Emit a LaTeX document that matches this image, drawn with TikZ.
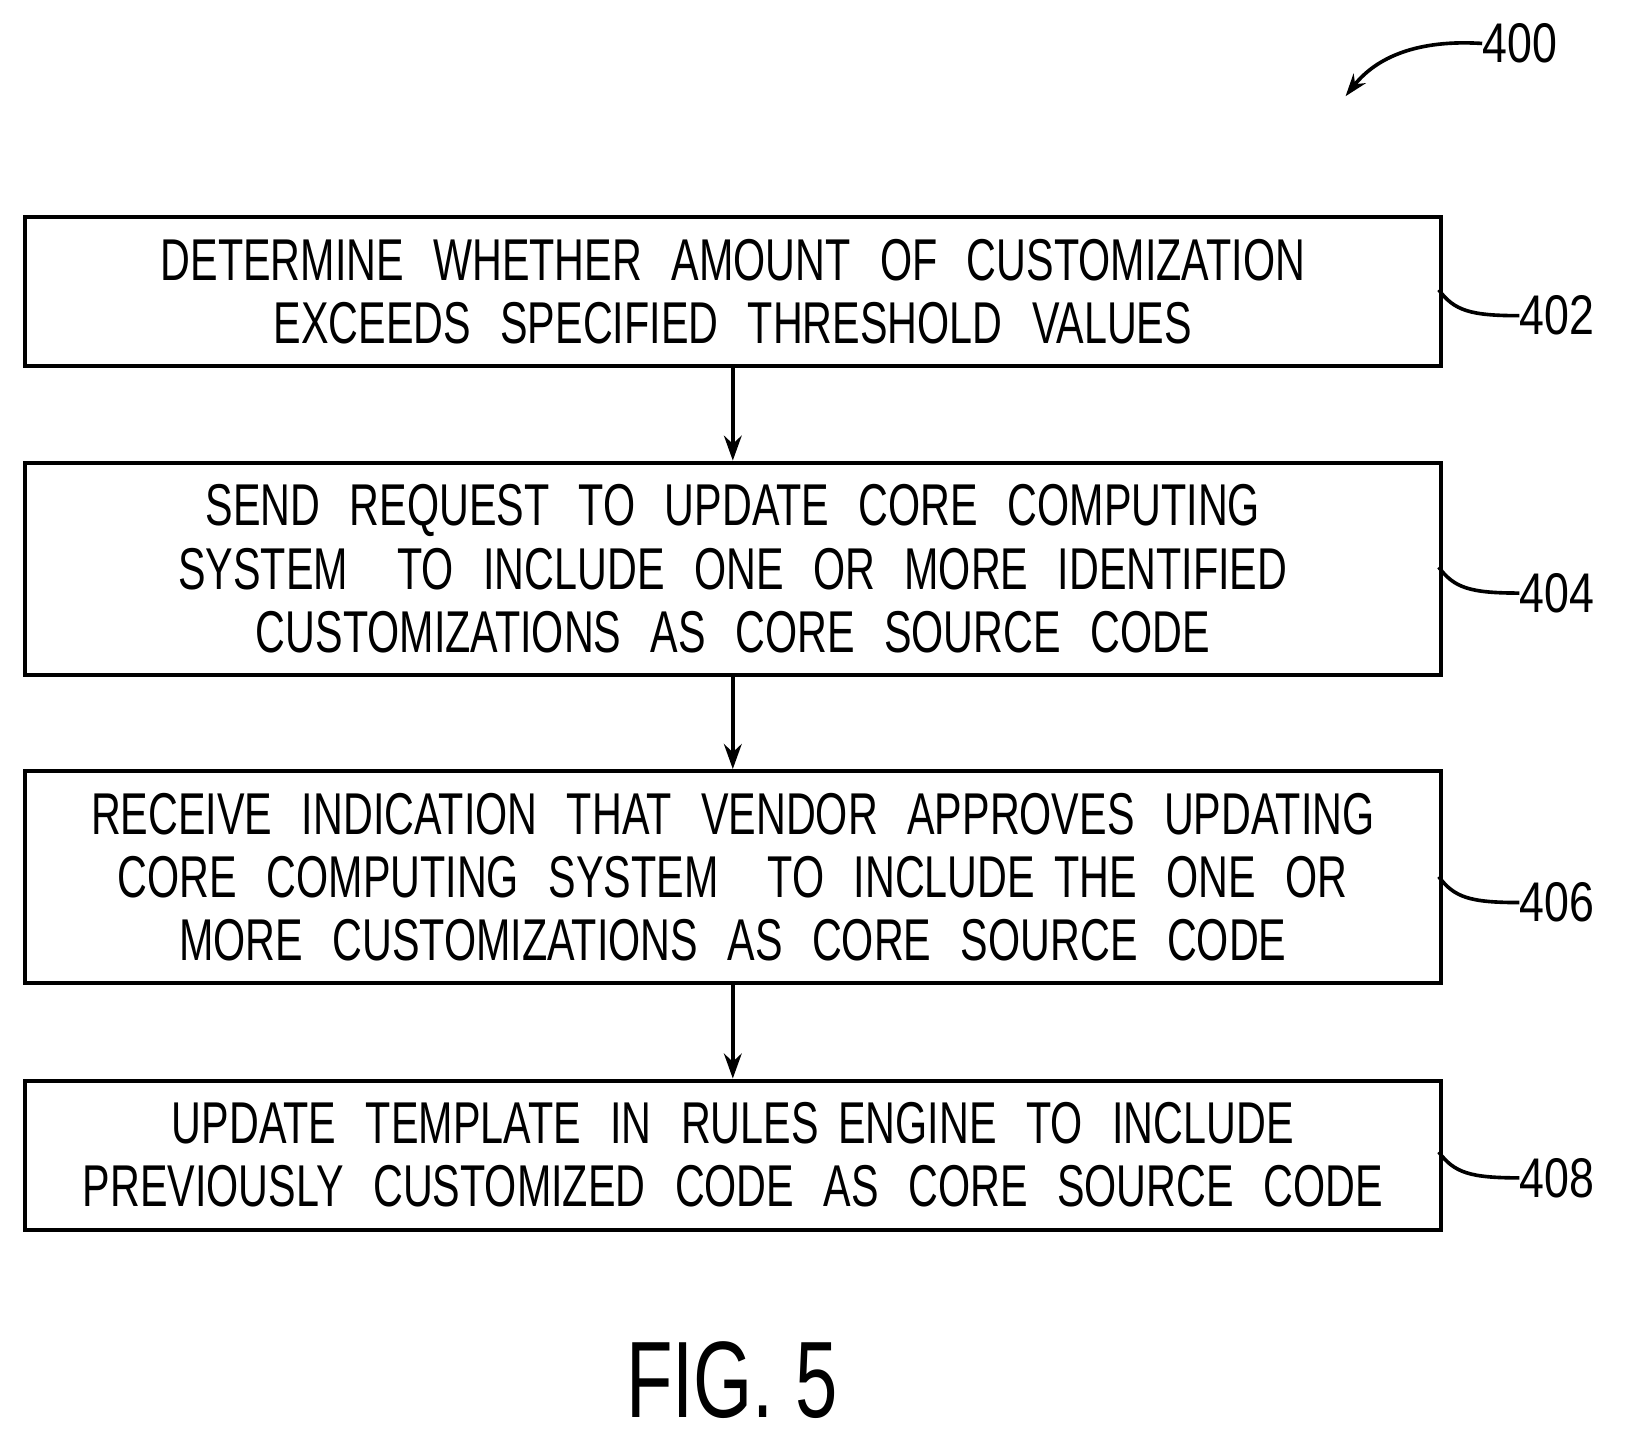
\documentclass[tikz,border=0pt]{standalone}
\usepackage{fontspec}
\setmainfont[FakeStretch=0.7]{Liberation Sans}
\newfontfamily\lblfont[FakeStretch=0.8]{Liberation Sans}
\usetikzlibrary{arrows.meta}
\begin{document}
\begin{tikzpicture}[x=1pt,y=-1pt,
  box/.style={draw,line width=4pt,minimum width=1368pt,anchor=north west,inner sep=0pt,align=center,font=\fontsize{57}{61}\selectfont,text width=1360pt},
  arr/.style={line width=4pt,-{Stealth[length=24pt,width=17pt]}},
  lbl/.style={font=\lblfont\fontsize{54}{54}\selectfont},
  lead/.style={line width=3.5pt}]
\useasboundingbox (0,0) rectangle (1570,1389);
\node[box,minimum height=144pt] (b1) at (22,208) {DETERMINE\ \,WHETHER\ \,AMOUNT\ \,OF\ \,CUSTOMIZATION\\EXCEEDS\ \,SPECIFIED\ \,THRESHOLD\ \,VALUES};
\node[box,minimum height=205pt] (b2) at (22,445) {SEND\ \,REQUEST\ \,TO\ \,UPDATE\ \,CORE\ \,COMPUTING\\SYSTEM\ \ \,TO\ \,INCLUDE\ \,ONE\ \,OR\ \,MORE\ \,IDENTIFIED\\CUSTOMIZATIONS\ \,AS\ \,CORE\ \,SOURCE\ \,CODE};
\node[box,minimum height=205pt] (b3) at (22,743) {RECEIVE\ \,INDICATION\ \,THAT\ \,VENDOR\ \,APPROVES\ \,UPDATING\\CORE\ \,COMPUTING\ \,SYSTEM\ \ \,TO\ \,INCLUDE\ THE\ \,ONE\ \,OR\\MORE\ \,CUSTOMIZATIONS\ \,AS\ \,CORE\ \,SOURCE\ \,CODE};
\node[box,minimum height=144pt] (b4) at (22,1042) {UPDATE\ \,TEMPLATE\ \,IN\ \,RULES\ ENGINE\ \,TO\ \,INCLUDE\\PREVIOUSLY\ \,CUSTOMIZED\ \,CODE\ \,AS\ \,CORE\ \,SOURCE\ \,CODE};
\draw[arr] (b1.south) -- (b2.north);
\draw[arr] (b2.south) -- (b3.north);
\draw[arr] (b3.south) -- (b4.north);
\foreach \b/\n/\y in {b1/402/305,b2/404/573,b3/406/872,b4/408/1138}{
  \node[lbl,anchor=west,inner sep=0pt] (l\n) at (1468,\y) {\n};
  \draw[lead] (1390,\y-25) .. controls (1405,\y-5) and (1420,\y) .. (l\n.west);
}
\node[lbl,anchor=west,inner sep=0pt] (l400) at (1432,42) {400};
\coordinate (c400) at (1300,93);
\draw[lead,-{Stealth[length=22pt,width=15pt]}] (l400.west) .. controls (1370,38) and (1330,55) .. (c400);
\node[font=\fontsize{105}{105}\selectfont,inner sep=0pt] (fig) at (707,1333) {FIG. 5};
\end{tikzpicture}
\end{document}
